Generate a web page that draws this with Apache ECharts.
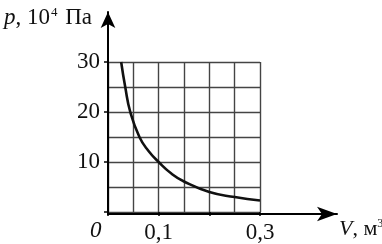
<!DOCTYPE html>
<html><head><meta charset="utf-8">
<script src="https://cdn.jsdelivr.net/npm/echarts@6/dist/echarts.min.js"></script>
<style>html,body{margin:0;padding:0;background:#fff}#c{width:382px;height:244px}</style>
</head><body><div id="c"></div>
<script>
const volume = [0.026, 0.034, 0.044, 0.062, 0.08, 0.1, 0.125, 0.15, 0.2, 0.25, 0.3];
const pressure = [30, 25, 20, 15, 12.2, 10, 7.7, 6.1, 4.0, 3.0, 2.3];
const xTickLabels = {"0.1": "0,1", "0.3": "0,3"};
const yTickLabels = {"10": "10", "20": "20", "30": "30"};

const F = 'Liberation Serif, Times New Roman, serif';
const chart = echarts.init(document.getElementById('c'), null, {renderer: 'canvas'});
chart.setOption({
  animation: false,
  backgroundColor: '#fff',
  grid: [
    {left: 108, right: 122, top: 62, bottom: 30},
    {left: 108, right: 45, top: 12, bottom: 30}
  ],
  xAxis: [{
    type: 'value', gridIndex: 0, min: 0, max: 0.3, interval: 0.1,
    axisLine: {show: false},
    axisTick: {show: true, length: 4, lineStyle: {color: '#000', width: 1.5}},
    axisLabel: {
      margin: 9, fontSize: 23, fontFamily: F, color: '#111',
      formatter: v => xTickLabels[String(Math.round(v * 100) / 100)] || ''
    },
    splitLine: {show: true, lineStyle: {color: '#444', width: 1.4}},
    minorTick: {show: false, splitNumber: 2},
    minorSplitLine: {show: true, lineStyle: {color: '#444', width: 1.4}}
  }, {
    type: 'value', gridIndex: 1, min: 0, max: 1,
    axisLine: {show: true, symbol: ['none', 'arrow'], symbolSize: [11, 20], symbolOffset: [0, 0], lineStyle: {color: '#000', width: 2}},
    axisTick: {show: false}, axisLabel: {show: false}, splitLine: {show: false}
  }],
  yAxis: [{
    type: 'value', gridIndex: 0, min: 0, max: 30, interval: 10,
    axisLine: {show: false},
    axisTick: {show: true, length: 4, lineStyle: {color: '#000', width: 1.5}},
    axisLabel: {
      margin: 8, fontSize: 23, fontFamily: F, color: '#111',
      formatter: v => yTickLabels[String(v)] || ''
    },
    splitLine: {show: true, lineStyle: {color: '#444', width: 1.4}},
    minorTick: {show: false, splitNumber: 2},
    minorSplitLine: {show: true, lineStyle: {color: '#444', width: 1.4}}
  }, {
    type: 'value', gridIndex: 1, min: 0, max: 1,
    axisLine: {show: true, symbol: ['none', 'arrow'], symbolSize: [11, 16], symbolOffset: [0, 0], lineStyle: {color: '#000', width: 2}},
    axisTick: {show: false}, axisLabel: {show: false}, splitLine: {show: false}
  }],
  series: [{
    type: 'line', xAxisIndex: 0, yAxisIndex: 0,
    data: volume.map((v, i) => [v, pressure[i]]),
    smooth: true, showSymbol: false,
    lineStyle: {color: '#111', width: 2.6}
  }],
  graphic: [
    {type: 'text', left: 90, top: 219, style: {text: '0', font: 'italic 23px ' + F, fill: '#111'}},
    {type: 'text', left: 4, top: 6, style: {
      text: '{i|p}{n|, 10}{s|4}{n| Па}',
      rich: {
        i: {font: 'italic 23px ' + F, fill: '#111', verticalAlign: 'bottom'},
        n: {font: '23px ' + F, fill: '#111', verticalAlign: 'bottom'},
        s: {font: '13px ' + F, fill: '#111', verticalAlign: 'top', padding: [0, 2, 10, 1]}
      }
    }},
    {type: 'text', left: 339, top: 218, style: {
      text: '{i|V}{n|, м}{s|3}',
      rich: {
        i: {font: 'italic 22px ' + F, fill: '#111'},
        n: {font: '22px ' + F, fill: '#111'},
        s: {font: '12px ' + F, fill: '#111', verticalAlign: 'top', padding: [0, 0, 10, 0]}
      }
    }}
  ]
});
</script></body></html>
